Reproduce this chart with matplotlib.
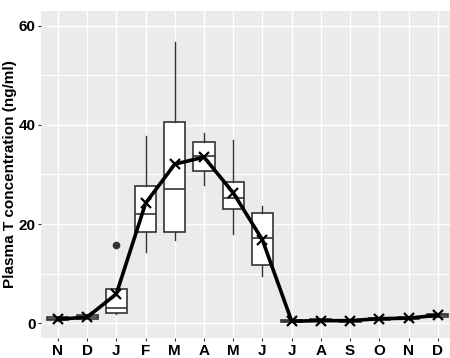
import matplotlib
matplotlib.use("Agg")
import matplotlib.pyplot as plt
import numpy as np

months = ["N", "D", "J", "F", "M", "A", "M", "J", "J", "A", "S", "O", "N", "D"]
q1 = [0.6, 0.9, 2.0, 18.4, 18.4, 30.7, 23.0, 11.7, 0.3, 0.4, 0.3, 0.7, 0.8, 1.3]
med = [0.9, 1.2, 3.0, 22.0, 27.1, 33.7, 25.3, 17.2, 0.5, 0.6, 0.5, 0.9, 1.0, 1.6]
q3 = [1.3, 1.7, 6.9, 27.7, 40.6, 36.6, 28.5, 22.2, 0.7, 0.8, 0.7, 1.1, 1.3, 1.9]
whislo = [0.5, 0.8, 1.8, 14.3, 16.8, 27.9, 18.0, 9.5, 0.2, 0.3, 0.3, 0.6, 0.7, 1.2]
whishi = [1.4, 1.8, 7.0, 37.8, 56.8, 38.4, 37.0, 23.6, 0.8, 0.9, 0.8, 1.2, 1.4, 2.0]
means = [0.8, 1.2, 5.9, 24.2, 32.1, 33.5, 26.3, 16.8, 0.4, 0.5, 0.5, 0.9, 1.0, 1.6]
outliers = [[], [], [15.8], [], [], [], [], [], [], [], [], [], [], []]
yticks = [0, 20, 40, 60]

fig = plt.figure(figsize=(4.5, 3.58), dpi=100)
ax = fig.add_axes([41/450, 1-338/358, 1-41/450, (338-11)/358])
ax.set_facecolor("#EBEBEB")
for s in ax.spines.values():
    s.set_visible(False)

x = np.arange(1, len(months) + 1)
stats = []
for i in range(len(months)):
    stats.append(dict(q1=q1[i], med=med[i], q3=q3[i], whislo=whislo[i],
                      whishi=whishi[i], fliers=outliers[i], mean=means[i]))
edge = "#333333"
ax.bxp(stats, positions=x, widths=0.72, patch_artist=True, showcaps=False,
       boxprops=dict(facecolor="white", edgecolor=edge, linewidth=1.2),
       medianprops=dict(color=edge, linewidth=1.2),
       whiskerprops=dict(color=edge, linewidth=1.0),
       flierprops=dict(marker="o", markerfacecolor="#333333", markeredgecolor="#333333",
                       markersize=4.5),
       zorder=3)
ax.plot(x, means, color="black", lw=2.6, marker="x", markersize=6.5, mew=1.6, zorder=5)

ax.set_xlim(0.42, 14.42)
ax.set_ylim(-3.0, 63.0)
ax.set_xticks(x)
ax.set_xticklabels(months)
ax.set_yticks(yticks)
ax.set_yticks([10, 30, 50], minor=True)
ax.grid(True, which="major", color="white", lw=1.0, zorder=0)
ax.grid(True, which="minor", axis="y", color="white", lw=0.8, zorder=0)
ax.set_axisbelow(True)
ax.tick_params(axis="both", which="major", length=2.5, width=0.8, color="#333333",
               labelsize=11, pad=1.5)
ax.tick_params(axis="y", which="minor", length=0)
for lab in ax.get_xticklabels() + ax.get_yticklabels():
    lab.set_fontweight("bold")
    lab.set_fontfamily("Liberation Sans")
    lab.set_color("black")
ax.set_ylabel("Plasma T concentration (ng/ml)", fontsize=11, fontweight="bold",
              fontfamily="Liberation Sans")
ax.yaxis.set_label_coords(-24/409, 0.5)
fig.savefig("out.png", dpi=100)
